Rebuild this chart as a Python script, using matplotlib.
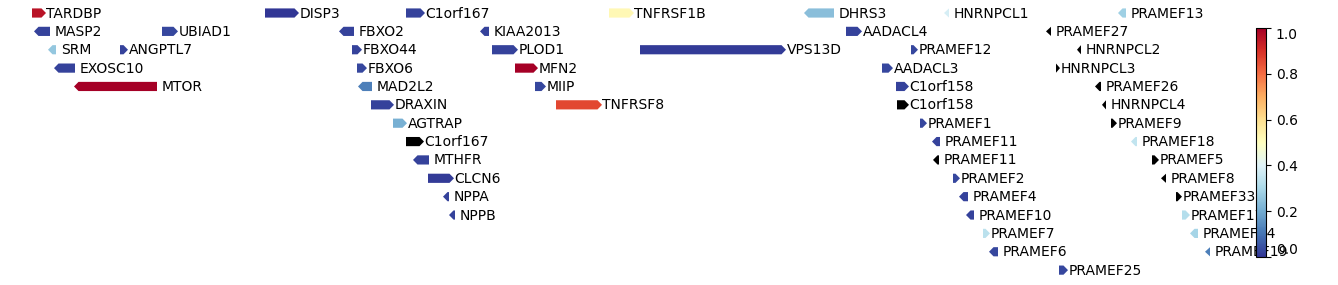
import numpy as np
import matplotlib
matplotlib.use("Agg")
import matplotlib.pyplot as plt
from matplotlib.patches import Polygon
from matplotlib.colors import Normalize
from matplotlib.cm import ScalarMappable

nan = np.nan
genes = ["TARDBP", "DISP3", "C1orf167", "TNFRSF1B", "DHRS3", "HNRNPCL1", "PRAMEF13",
         "MASP2", "UBIAD1", "FBXO2", "KIAA2013", "AADACL4", "PRAMEF27",
         "SRM", "ANGPTL7", "FBXO44", "PLOD1", "VPS13D", "PRAMEF12", "HNRNPCL2",
         "EXOSC10", "FBXO6", "MFN2", "AADACL3", "HNRNPCL3",
         "MTOR", "MAD2L2", "MIIP", "C1orf158", "PRAMEF26",
         "DRAXIN", "TNFRSF8", "C1orf158", "HNRNPCL4",
         "AGTRAP", "PRAMEF1", "PRAMEF9",
         "C1orf167", "PRAMEF11", "PRAMEF18",
         "MTHFR", "PRAMEF11", "PRAMEF5",
         "CLCN6", "PRAMEF2", "PRAMEF8",
         "NPPA", "PRAMEF4", "PRAMEF33",
         "NPPB", "PRAMEF10", "PRAMEF17",
         "PRAMEF7", "PRAMEF14",
         "PRAMEF6", "PRAMEF19",
         "PRAMEF25"]
starts = [32, 265, 406, 609, 804, 944, 1118,
          34, 162, 339, 480, 846, 1046,
          48, 120, 352, 492, 640, 911, 1077,
          54, 357, 515, 882, 1056,
          74, 358, 535, 896, 1095,
          371, 556, 897, 1102,
          393, 920, 1111,
          406, 932, 1131,
          413, 933, 1152,
          428, 953, 1161,
          443, 959, 1176,
          449, 966, 1182,
          983, 1190,
          989, 1205,
          1059]
ends = [46, 299, 425, 634, 834, 949, 1126,
        50, 178, 354, 489, 862, 1051,
        56, 128, 362, 518, 786, 918, 1081,
        75, 367, 538, 893, 1060,
        157, 372, 546, 909, 1101,
        394, 602, 909, 1106,
        407, 927, 1117,
        424, 940, 1137,
        429, 939, 1159,
        454, 960, 1166,
        449, 968, 1182,
        455, 974, 1190,
        990, 1198,
        998, 1210,
        1068]
strands = ["+", "+", "+", "+", "-", "-", "-",
           "-", "+", "-", "-", "+", "-",
           "-", "+", "+", "+", "+", "+", "-",
           "-", "+", "+", "+", "+",
           "-", "-", "+", "+", "-",
           "+", "+", "+", "-",
           "+", "+", "+",
           "+", "-", "-",
           "-", "-", "+",
           "+", "+", "-",
           "-", "-", "+",
           "-", "-", "+",
           "+", "-",
           "-", "-",
           "+"]
rows = [0, 0, 0, 0, 0, 0, 0,
        1, 1, 1, 1, 1, 1,
        2, 2, 2, 2, 2, 2, 2,
        3, 3, 3, 3, 3,
        4, 4, 4, 4, 4,
        5, 5, 5, 5,
        6, 6, 6,
        7, 7, 7,
        8, 8, 8,
        9, 9, 9,
        10, 10, 10,
        11, 11, 11,
        12, 12,
        13, 13,
        14]
values = [0.96, 0.0, 0.02, 0.52, 0.24, 0.38, 0.28,
          0.02, 0.03, 0.02, 0.02, 0.02, nan,
          0.26, 0.02, 0.02, 0.02, 0.01, 0.03, nan,
          0.02, 0.03, 1.0, 0.03, nan,
          1.0, 0.12, 0.03, 0.02, nan,
          0.02, 0.86, nan, nan,
          0.21, 0.03, nan,
          nan, 0.02, 0.34,
          0.02, nan, nan,
          0.01, 0.03, nan,
          0.02, 0.02, nan,
          0.02, 0.02, 0.32,
          0.33, 0.29,
          0.03, 0.12,
          0.03]
cbar_ticks = [0.0, 0.2, 0.4, 0.6, 0.8, 1.0]

cmap = plt.get_cmap("RdYlBu_r").copy()
norm = Normalize(vmin=0.0, vmax=1.0)

fig = plt.figure(figsize=(13.38, 2.85), dpi=100)
ax = fig.add_axes([0, 0, 1, 1])
ax.set_xlim(0, 1338)
ax.set_ylim(14.81, -0.708)
ax.axis("off")

w = 0.5
hl_max = 4.5
for name, s, e, st, r, v in zip(genes, starts, ends, strands, rows, values):
    color = "black" if np.isnan(v) else cmap(norm(v))
    length = e - s
    if length <= hl_max + 1:
        hw = w * min(1.0, length / 4.0)
        if st == "+":
            pts = [(s, r - hw / 2), (e, r), (s, r + hw / 2)]
        else:
            pts = [(e, r - hw / 2), (s, r), (e, r + hw / 2)]
    else:
        hl = hl_max
        if st == "+":
            pts = [(s, r - w / 2), (e - hl, r - w / 2), (e, r), (e - hl, r + w / 2), (s, r + w / 2)]
        else:
            pts = [(e, r - w / 2), (s + hl, r - w / 2), (s, r), (s + hl, r + w / 2), (e, r + w / 2)]
    ax.add_patch(Polygon(pts, closed=True, facecolor=color, edgecolor="none"))
    tx = e + (0.5 if st == "+" else 5)
    ax.text(tx, r + 0.03, name, ha="left", va="center", fontsize=10, color="black")

cax = fig.add_axes([1256 / 1338, (285 - 257) / 285, 10 / 1338, 229 / 285])
sm = ScalarMappable(norm=norm, cmap=cmap)
cb = fig.colorbar(sm, cax=cax)
cb.set_ticks(cbar_ticks)
cax.tick_params(labelsize=10)
labels = cax.get_yticklabels()
labels[0].set_verticalalignment("bottom")
labels[-1].set_verticalalignment("top")

fig.savefig("out.png", dpi=100)
